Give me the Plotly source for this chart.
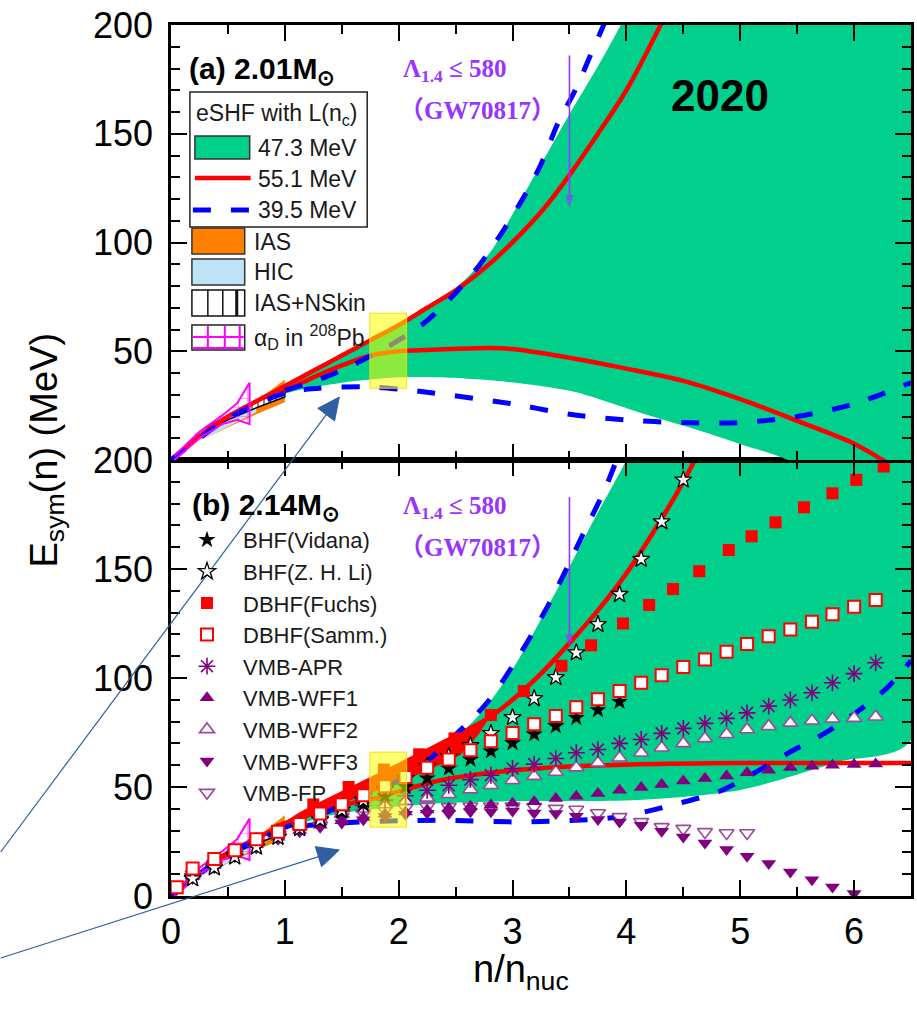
import math
import plotly.graph_objects as go

# ---------------- geometry (pixels) ----------------
W, H = 917, 1009
ML, MR, MT, MB = 171, 3, 25, 113
PW, PH = W - ML - MR, H - MT - MB
Y_SPLIT = 460


def px_x(px):
    return (px - ML) / PW


def px_y(py):
    return (H - MB - py) / PH


SPLIT = px_y(Y_SPLIT)

FONT = "Liberation Sans, Arial, sans-serif"
SERIF = "Liberation Serif, Times New Roman, serif"
GREEN = "#00D08B"
RED = "#FF0000"
BLUE = "#0000FF"
PURPLE = "#800080"
LPURPLE = "#9A4A9A"
ORANGE = "#FF8000"
LBLUE = "#BEE3F7"
MAGENTA = "#FF00FF"
VIOLET = "#9933FF"
ARROW = "#2E5FA0"

# ---------------- panel (a): 2.01 Msun ----------------
a_band_xu = [0, 0.5, 1.0, 1.5, 2.0, 2.5, 2.81, 3.0, 3.25, 3.5, 3.75, 3.94, 4.2, 6.5]
a_band_yu = [0, 20, 34, 48, 62, 79, 96, 113, 136, 159, 181, 199, 225, 420]
a_band_xl = [0, 0.5, 1.0, 1.5, 2.0, 2.36, 2.94, 3.53, 4.11, 4.55, 4.99, 5.42, 6.5]
a_band_yl = [0, 19, 30.5, 35.5, 38, 38, 36, 31.5, 22, 15, 7.5, 0, -30]

a_red_hi_x = [0, 0.25, 0.5, 0.75, 1.0, 1.25, 1.5, 1.75, 2.0, 2.25, 2.5, 2.75, 2.92, 3.25, 3.5, 3.75, 4.0, 4.3, 4.5]
a_red_hi_y = [0, 11, 20, 27, 34, 41, 48, 55, 62, 70, 78, 88, 96, 114, 131, 150, 170, 200, 222]
a_red_lo_x = [0.8, 1.0, 1.25, 1.5, 1.75, 2.0, 2.45, 2.8, 3.0, 3.5, 4.0, 4.5, 5.0, 5.5, 6.0, 6.25, 6.4]
a_red_lo_y = [28.5, 32, 38, 43.5, 48, 50, 51, 51.5, 51, 47, 42, 36.4, 28, 18, 7.5, 0, -5]

a_blue_hi_x = [1.0, 1.3, 1.55, 1.9, 2.2, 2.45, 2.7, 2.9, 3.1, 3.25, 3.4, 3.55, 3.7, 3.8, 3.9]
a_blue_hi_y = [32, 37, 42.5, 52, 62, 74, 89, 104, 121, 136, 155, 170, 188, 200, 213]
a_blue_lo_x = [0, 0.5, 1.0, 1.3, 1.7, 2.0, 2.3, 3.0, 3.5, 4.0, 4.5, 5.0, 5.5, 6.0, 6.5]
a_blue_lo_y = [0, 19, 30.7, 33, 33.7, 32.6, 30.8, 25.8, 21, 18.4, 17.2, 17.2, 20, 25.8, 35.6]

# ---------------- panel (b): 2.14 Msun ----------------
b_band_xu = [0, 0.5, 1.0, 1.5, 2.0, 2.5, 2.74, 3.0, 3.25, 3.53, 3.75, 4.0, 4.3, 6.5]
b_band_yu = [0, 19.5, 33, 46, 59, 73, 85, 104, 127, 154, 176, 200, 235, 450]
b_band_xl = [0, 0.5, 1.0, 1.4, 2.0, 2.36, 3.0, 4.1, 5.0, 5.86, 6.5]
b_band_yl = [0, 18.5, 30.5, 37, 41, 42.5, 43.5, 44, 48.6, 61.5, 71.4]

b_wedge_x = [1.1, 1.5, 1.75, 2.0, 2.25, 2.54, 2.7, 2.8]
b_wedge_top = [36.5, 47, 53.5, 60, 67, 74.5, 79, 82]
b_wedge_bot = [36.5, 42.5, 47, 52, 57.5, 64.6, 74, 82]

b_red_hi_x = [0, 0.5, 1.0, 1.14, 1.5, 2.0, 2.54, 2.8, 3.0, 3.25, 3.5, 3.75, 4.0, 4.25, 4.5, 4.62]
b_red_hi_y = [0, 19.5, 33, 37.5, 47, 60, 74.5, 82, 90, 102, 116, 131, 148, 168, 190, 202]
b_red_lo_x = [0.9, 1.2, 1.5, 1.8, 2.0, 2.36, 2.8, 3.24, 4.11, 5.0, 6.5]
b_red_lo_y = [31.5, 37, 41.5, 45, 48, 53, 56.5, 58.6, 60.4, 61, 61]

b_blue_hi_x = [1.0, 1.3, 1.6, 2.0, 2.27, 2.45, 2.77, 3.03, 3.32, 3.62, 3.82, 3.95]
b_blue_hi_y = [31.5, 37, 44, 53, 62.7, 71.5, 88.3, 108, 134, 166, 187.7, 205]
b_blue_lo_x = [0, 0.5, 1.0, 1.5, 2.0, 2.36, 3.09, 3.82, 4.11, 4.46, 4.81, 5.09, 5.42, 5.74, 6.04, 6.3, 6.5]
b_blue_lo_y = [0, 19, 30.5, 33.5, 34.5, 34.7, 34, 35.6, 38, 42.5, 47.8, 55.4, 65.5, 74.6, 85, 96, 108]

# ---------------- low-density constraints ----------------
ias_x = [0.3, 0.5, 0.75, 1.0]
ias_lo = [10, 15, 21, 26.5]
ias_hi = [13, 19, 27, 37]
hic_x = [0.2, 0.3, 0.45, 0.6, 0.75]
hic_lo = [8, 10, 14, 18, 22]
hic_hi = [12, 15, 19, 23, 27]
skin_x = [0.3, 0.5, 0.75, 1.0]
skin_lo = [13, 18.5, 24, 29]
skin_hi = [14.5, 20.5, 27, 33.5]
alpha_x = [0.03, 0.25, 0.45, 0.58, 0.69]
alpha_lo = [0, 10, 16.5, 18.5, 16.5]
alpha_hi = [2, 13, 20.5, 26, 35.5]

# ---------------- microscopic calculations (panel b) ----------------
vid_x = [0.19, 0.38, 0.56, 0.75, 0.94, 1.13, 1.31, 1.5, 1.69, 1.88, 2.06, 2.25, 2.44, 2.63,
         2.81, 3.0, 3.19, 3.38, 3.56, 3.75, 3.94]
vid_y = [9, 14, 19, 23.5, 27.5, 31, 35, 38.5, 42, 46, 50, 54, 58.5, 62.6,
         66.4, 70.2, 74.2, 77.9, 81.7, 85.3, 89.1]

li_x = [0.19, 0.38, 0.56, 0.75, 0.94, 1.13, 1.31, 1.5, 1.69, 1.88, 2.06, 2.25, 2.44, 2.63,
        2.81, 3.0, 3.19, 3.38, 3.56, 3.75, 3.94, 4.13, 4.31, 4.5]
li_y = [8, 13, 18, 22.5, 27, 31, 35, 39.5, 44, 49, 54, 59.5, 64, 69,
        74.6, 81.9, 90.6, 100.3, 111.6, 124.6, 138.4, 154.5, 171.7, 190.9]

fuchs_x = [1.25, 1.56, 1.87, 2.18, 2.49, 2.81, 3.1, 3.43, 3.69, 3.97, 4.2, 4.41, 4.64, 4.9,
           5.1, 5.31, 5.56, 5.81, 6.02, 6.26]
fuchs_y = [42, 50, 58, 65, 72.3, 83, 94, 105.6, 115, 125, 133.5, 140.8, 149, 158.7,
           165, 171.4, 178.3, 184.7, 190.9, 197]

samm_x = [0.05, 0.19, 0.38, 0.56, 0.75, 0.94, 1.13, 1.31, 1.5, 1.69, 1.88, 2.06, 2.25, 2.44,
          2.63, 2.81, 3.0, 3.19, 3.38, 3.56, 3.75, 3.94, 4.13, 4.31, 4.5, 4.69, 4.88, 5.06,
          5.25, 5.44, 5.63, 5.81, 6.0, 6.19]
samm_y = [4, 12.6, 17, 21, 26, 29.5, 33, 37.8, 42.1, 46.2, 50.4, 54.6, 58.8, 62.6,
          66.9, 71, 74.8, 78.8, 82.6, 86.6, 90.2, 94, 97.8, 101.3, 105.1, 108.5, 112, 115.6,
          119.2, 122.3, 125.8, 129.2, 132.7, 135.8]

vmb_x = [0.19, 0.38, 0.56, 0.75, 0.94, 1.13, 1.31, 1.5, 1.69, 1.88, 2.06, 2.25, 2.44, 2.63,
         2.81, 3.0, 3.19, 3.38, 3.56, 3.75, 3.94, 4.13, 4.31, 4.5, 4.69, 4.88, 5.06, 5.25,
         5.44, 5.63, 5.81, 6.0, 6.19]
apr_y = [10, 15.5, 20.5, 25.5, 29.5, 33, 36, 39, 41.5, 44, 46, 48.5, 50.8, 53.4,
         55.4, 58.5, 60.5, 63.1, 65.7, 67.2, 70, 71.8, 74.6, 76.9, 79.2, 81.5, 84, 87.1,
         89.9, 93.2, 97.8, 102, 107]
wff1_y = [9, 14, 19, 23.5, 27, 30, 32.5, 34.5, 36, 37.5, 38.5, 39.5, 40.3, 41,
          41.8, 42.5, 43.2, 44.7, 45.8, 47, 48.5, 49.8, 51.1, 52.8, 53.9, 55, 56.5, 57.7,
          58.9, 59.5, 60, 60.3, 60.5]
wff2_y = [9.5, 15, 20, 25, 29, 32, 35, 37.5, 40, 42, 43.5, 45, 46.7, 48.8,
          50.8, 53.1, 55, 56.9, 58.9, 61.1, 63.4, 65.7, 68, 70, 72.3, 74.2, 76.4, 77.9,
          79.4, 80.4, 81.3, 81.6, 82.2]
wff3_x = [0.05, 0.19, 0.38, 0.56, 0.75, 0.94, 1.13, 1.31, 1.5, 1.69, 1.88, 2.06, 2.25, 2.44,
          2.63, 2.81, 3.0, 3.19, 3.38, 3.56, 3.75, 3.94, 4.13, 4.31, 4.5, 4.69, 4.88, 5.06,
          5.25, 5.44, 5.63, 5.81, 6.0]
wff3_y = [3, 8, 13, 18, 22, 26, 29.5, 31.5, 33.5, 35, 36.5, 37.5, 38, 37.8,
          38.6, 38.6, 39, 38.1, 37.8, 36.6, 35.1, 34, 32.5, 29.7, 27.1, 24.3, 21.3, 18.2,
          14.9, 11, 7.5, 4.1, 1.1]
fp_x = [0.05, 0.19, 0.38, 0.56, 0.75, 0.94, 1.13, 1.31, 1.5, 1.69, 1.88, 2.06, 2.25, 2.44,
        2.63, 2.81, 3.0, 3.19, 3.38, 3.56, 3.75, 3.94, 4.13, 4.31, 4.5, 4.69, 4.88, 5.06]
fp_y = [5, 10, 15, 20, 24.5, 28.5, 32, 34.5, 36.5, 38, 39.5, 40.5, 41, 40.9,
        41.2, 41.2, 41.2, 40.9, 40.1, 39.7, 38.1, 36.3, 34, 31.7, 30.9, 29.4, 28.9, 28.9]

# highlighted density window and GW170817 bound
win_x = [1.747, 2.07]
win_a_y = [33, 67.5]
win_b_y = [31.6, 66]
gw_x = [3.5, 3.5]
gw_a_y = [186, 116]
gw_b_y = [183, 114.4]

fig = go.Figure()


def polygon(xu, yu, xl, yl):
    return list(xu) + list(xl)[::-1], list(yu) + list(yl)[::-1]


def add_fill(xs, ys, xa, ya, color, line=None, pattern=None, smooth=True):
    kw = {}
    if pattern is not None:
        kw["fillpattern"] = pattern
    ln = dict(width=0, color=color) if line is None else dict(line)
    if smooth:
        ln.update(shape="spline", smoothing=0.8)
    fig.add_trace(go.Scatter(
        x=xs, y=ys, xaxis=xa, yaxis=ya, mode="lines", fill="toself",
        fillcolor=color, line=ln, showlegend=False, hoverinfo="skip", **kw))


def add_line(xs, ys, xa, ya, color, width, dash=None):
    fig.add_trace(go.Scatter(
        x=xs, y=ys, xaxis=xa, yaxis=ya, mode="lines",
        line=dict(color=color, width=width, dash=dash, shape="spline", smoothing=0.9),
        showlegend=False, hoverinfo="skip"))


def add_constraints(xa, ya):
    xs, ys = polygon(ias_x, ias_hi, ias_x, ias_lo)
    add_fill(xs, ys, xa, ya, ORANGE, smooth=False)
    xs, ys = polygon(hic_x, hic_hi, hic_x, hic_lo)
    add_fill(xs, ys, xa, ya, LBLUE, smooth=False)
    xs, ys = polygon(skin_x, skin_hi, skin_x, skin_lo)
    add_fill(xs, ys, xa, ya, "white", line=dict(color="black", width=1.5), smooth=False,
             pattern=dict(shape="|", fgcolor="black", bgcolor="white", size=6, solidity=0.3))


def add_alpha(xa, ya):
    xs, ys = polygon(alpha_x, alpha_hi, alpha_x, alpha_lo)
    add_fill(xs, ys, xa, ya, "rgba(255,255,255,0)", line=dict(color=MAGENTA, width=2), smooth=False,
             pattern=dict(shape="+", fgcolor=MAGENTA, bgcolor="rgba(255,255,255,0)", size=9, solidity=0.15))


def add_gw_arrow(ys, xa, ya):
    fig.add_trace(go.Scatter(
        x=gw_x, y=ys, xaxis=xa, yaxis=ya, mode="lines+markers",
        line=dict(color=VIOLET, width=1.6),
        marker=dict(symbol="arrow", size=[0, 13], color=VIOLET, angleref="previous",
                    line=dict(width=0)),
        cliponaxis=False, showlegend=False, hoverinfo="skip"))


DASH = "18px,20px"

# panel (a)
xs, ys = polygon(a_band_xu, a_band_yu, a_band_xl, a_band_yl)
add_fill(xs, ys, "x2", "y2", GREEN)
add_constraints("x2", "y2")
add_line(a_red_hi_x, a_red_hi_y, "x2", "y2", RED, 4.5)
add_line(a_red_lo_x, a_red_lo_y, "x2", "y2", RED, 4.5)
add_line(a_blue_lo_x, a_blue_lo_y, "x2", "y2", BLUE, 5, DASH)
add_line(a_blue_hi_x, a_blue_hi_y, "x2", "y2", BLUE, 5, DASH)
add_alpha("x2", "y2")
add_gw_arrow(gw_a_y, "x2", "y2")

# panel (b)
xs, ys = polygon(b_band_xu, b_band_yu, b_band_xl, b_band_yl)
add_fill(xs, ys, "x", "y", GREEN)
xs, ys = polygon(b_wedge_x, b_wedge_top, b_wedge_x, b_wedge_bot)
add_fill(xs, ys, "x", "y", RED, smooth=False)
add_constraints("x", "y")
add_line(b_red_hi_x, b_red_hi_y, "x", "y", RED, 4.5)
add_line(b_red_lo_x, b_red_lo_y, "x", "y", RED, 4.5)
add_line(b_blue_lo_x, b_blue_lo_y, "x", "y", BLUE, 5, DASH)
add_line(b_blue_hi_x, b_blue_hi_y, "x", "y", BLUE, 5, DASH)
add_alpha("x", "y")
add_gw_arrow(gw_b_y, "x", "y")

series = [
    ("BHF(Vidana)", vid_x, vid_y, dict(symbol="star", size=13, color="black", line=dict(width=0))),
    ("BHF(Z. H. Li)", li_x, li_y, dict(symbol="star", size=13, color="white", line=dict(width=1.3, color="black"))),
    ("DBHF(Fuchs)", fuchs_x, fuchs_y, dict(symbol="square", size=12, color=RED, line=dict(width=0))),
    ("DBHF(Samm.)", samm_x, samm_y, dict(symbol="square", size=12, color="white", line=dict(width=2, color=RED))),
    ("VMB-APR", vmb_x, apr_y, dict(symbol="asterisk-open", size=14, color=PURPLE, line=dict(width=1.6, color=PURPLE))),
    ("VMB-WFF1", vmb_x, wff1_y, dict(symbol="triangle-up", size=13, color=PURPLE, line=dict(width=0))),
    ("VMB-WFF2", vmb_x, wff2_y, dict(symbol="triangle-up", size=13, color="white", line=dict(width=1.6, color=LPURPLE))),
    ("VMB-WFF3", wff3_x, wff3_y, dict(symbol="triangle-down", size=13, color=PURPLE, line=dict(width=0))),
    ("VMB-FP", fp_x, fp_y, dict(symbol="triangle-down", size=13, color="white", line=dict(width=1.6, color=LPURPLE))),
]
draw_order = [8, 7, 6, 5, 4, 0, 1, 2, 3]
for i in draw_order:
    name, xs, ys, mk = series[i]
    fig.add_trace(go.Scatter(x=xs, y=ys, xaxis="x", yaxis="y", mode="markers", name=name,
                             marker=mk, legendrank=i + 1, hoverinfo="skip"))

# ---------------- axes ----------------
tickfont = dict(family=FONT, size=36, color="black")
common = dict(showline=True, linecolor="black", linewidth=2.5, mirror="allticks",
              ticks="inside", ticklen=16, tickwidth=2, tickcolor="black",
              showgrid=False, zeroline=False, tickfont=tickfont)
xminor = dict(ticks="inside", ticklen=9, tickwidth=1.5, tickcolor="black", dtick=0.5, tick0=0)
yminor = dict(ticks="inside", ticklen=9, tickwidth=1.5, tickcolor="black", dtick=10, tick0=0)

fig.update_layout(
    width=W, height=H, margin=dict(l=ML, r=MR, t=MT, b=MB, pad=0),
    paper_bgcolor="white", plot_bgcolor="white",
    xaxis=dict(domain=[0, 1], anchor="y", range=[0, 6.5], dtick=1, tick0=0,
               minor=xminor, ticklabelstandoff=2, **common),
    xaxis2=dict(domain=[0, 1], anchor="y2", range=[0, 6.5], dtick=1, tick0=0,
                minor=xminor, showticklabels=False, matches="x", **common),
    yaxis=dict(domain=[0, SPLIT], anchor="x", range=[0, 200], tickmode="array",
               tickvals=[0, 50, 100, 150, 200], minor=yminor, ticklabelstandoff=8, **common),
    yaxis2=dict(domain=[SPLIT, 1], anchor="x2", range=[0, 200], tickmode="array",
                tickvals=[50, 100, 150, 200], minor=yminor, ticklabelstandoff=8, **common),
    legend=dict(x=px_x(171), y=px_y(519), xanchor="left", yanchor="top",
                bgcolor="rgba(0,0,0,0)", borderwidth=0, itemwidth=62,
                font=dict(family=FONT, size=22, color="#1a1a1a"), tracegroupgap=0),
    showlegend=True,
)

# ---------------- highlight windows ----------------
shapes = []
for xr, yr, wy in (("x2", "y2", win_a_y), ("x", "y", win_b_y)):
    shapes.append(dict(type="rect", xref=xr, yref=yr,
                       x0=win_x[0], x1=win_x[1], y0=wy[0], y1=wy[1],
                       fillcolor="rgba(255,255,0,0.55)", line=dict(color="rgba(240,220,0,0.9)", width=1),
                       layer="above"))


# ---------------- panel (a) key ----------------
def prect(x0, y0, x1, y1, **kw):
    return dict(type="rect", xref="paper", yref="paper", x0=px_x(x0), x1=px_x(x1),
                y0=px_y(y1), y1=px_y(y0), layer="above", **kw)


def pline(x0, y0, x1, y1, color, width, dash=None):
    return dict(type="line", xref="paper", yref="paper", x0=px_x(x0), x1=px_x(x1),
                y0=px_y(y0), y1=px_y(y1), layer="above",
                line=dict(color=color, width=width, dash=dash))


shapes.append(prect(190, 92, 368, 227, fillcolor="white", line=dict(color="#222", width=1.5)))
shapes.append(prect(195, 136, 250, 159, fillcolor=GREEN, line=dict(color="#333", width=1.5)))
shapes.append(pline(195, 178, 251, 178, RED, 4.5))
shapes.append(pline(193, 210, 251, 210, BLUE, 5, DASH))
shapes.append(prect(192, 228, 245, 254, fillcolor=ORANGE, line=dict(color="#333", width=1.5)))
shapes.append(prect(192, 259, 245, 285, fillcolor=LBLUE, line=dict(color="#333", width=1.5)))
shapes.append(prect(192, 290, 245, 316, fillcolor="white", line=dict(color="#111", width=1.5)))
for vx, vw in ((208, 1.5), (223, 1.5), (237, 3)):
    shapes.append(pline(vx, 290, vx, 316, "#111", vw))
shapes.append(prect(192, 325, 245, 350, fillcolor="white", line=dict(color="#222", width=1.5)))
for vx in (208, 225, 240):
    shapes.append(pline(vx, 326, vx, 349, MAGENTA, 2))
shapes.append(pline(193, 337, 244, 337, MAGENTA, 2))
shapes.append(pline(193, 348, 244, 348, MAGENTA, 2))


# pointer arrows drawn from the left margin into both panels
def pointer(tail, tip, head_len=22, half_w=10.5):
    (x0, y0), (x1, y1) = tail, tip
    d = math.hypot(x1 - x0, y1 - y0)
    ux, uy = (x1 - x0) / d, (y1 - y0) / d
    bx, by = x1 - head_len * ux, y1 - head_len * uy
    nx, ny = -uy, ux
    shapes.append(pline(x0, y0, bx + 2 * ux, by + 2 * uy, ARROW, 1.2))
    pts = [(x1, y1), (bx + half_w * nx, by + half_w * ny), (bx - half_w * nx, by - half_w * ny)]
    path = "M " + " L ".join(f"{px_x(p[0]):.5f},{px_y(p[1]):.5f}" for p in pts) + " Z"
    shapes.append(dict(type="path", xref="paper", yref="paper", path=path,
                       fillcolor=ARROW, line=dict(color=ARROW, width=1), layer="above"))


pointer((0, 852), (340, 397))
pointer((0, 958), (340, 850))

fig.update_layout(shapes=shapes)

# ---------------- texts ----------------
ann = []


def ptext(text, px, py, size, family=FONT, color="#1a1a1a", xanchor="left", **kw):
    ann.append(dict(text=text, x=px_x(px), y=px_y(py), xref="paper", yref="paper",
                    xanchor=xanchor, yanchor="middle", showarrow=False,
                    font=dict(family=family, size=size, color=color), **kw))


key_font = 23
ptext("eSHF with L(n<sub>c</sub>)", 194, 114, key_font)
ptext("47.3 MeV", 256, 148, key_font)
ptext("55.1 MeV", 256, 179, key_font)
ptext("39.5 MeV", 256, 210, key_font)
ptext("IAS", 252, 242, key_font)
ptext("HIC", 252, 272, key_font)
ptext("IAS+NSkin", 252, 303, key_font)
ptext("α<sub>D</sub> in <sup>208</sup>Pb", 252, 337, key_font)

ptext("<b>(a) 2.01M<sub>⊙</sub></b>", 187, 70, 30, color="black")
ptext("<b>(b) 2.14M<sub>⊙</sub></b>", 190, 506, 30, color="black")
ptext("<b>2020</b>", 722, 96, 44, color="black", xanchor="center")

for y1, y2 in ((70, 111), (507, 547)):
    ptext("<b>Λ<sub>1.4</sub> ≤ 580</b>", 402, y1, 25, family=SERIF, color=VIOLET)
    ptext("<b>（GW70817）</b>", 398, y2, 25, family=SERIF + ", Noto Sans CJK SC", color=VIOLET)

ptext("E<sub>sym</sub>(n) (MeV)", 46, 450, 38, color="black", xanchor="center", textangle=-90)
ptext("n/n<sub>nuc</sub>", 522, 972, 38, color="black", xanchor="center")

fig.update_layout(annotations=ann)

fig.write_html("out.html")
